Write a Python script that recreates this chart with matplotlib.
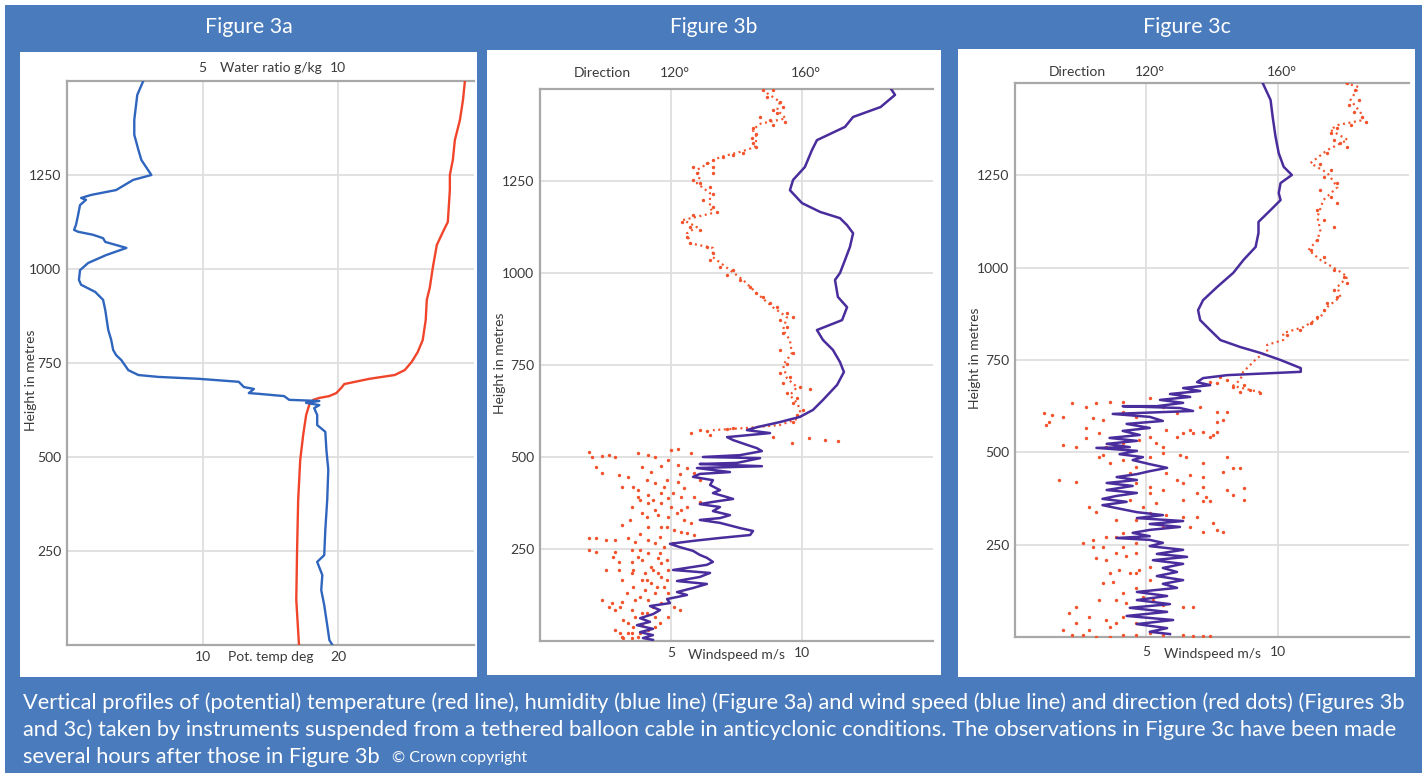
import matplotlib
matplotlib.use('Agg')
import matplotlib.pyplot as plt
from matplotlib.patches import Rectangle

# ---------------- DATA ----------------
# Figure 3a: water ratio (g/kg) and potential temperature (deg) vs height (m)
a_h_water = [0, 13, 53, 106, 146, 186, 221, 239, 306, 386, 466, 519, 567, 585, 612, 630, 638, 644, 649, 652,
             662, 668, 670, 681, 686, 700, 708, 713, 718, 731, 758, 771, 785, 811, 838, 891, 918, 939, 958, 971,
             997, 1016, 1037, 1056, 1072, 1082, 1091, 1099, 1104, 1117, 1144, 1170, 1184, 1189, 1197, 1210, 1237,
             1250, 1290, 1317, 1357, 1397, 1463, 1500]
a_water = [9.78, 9.67, 9.59, 9.48, 9.37, 9.41, 9.22, 9.48, 9.52, 9.59, 9.63, 9.56, 9.52, 9.22, 9.22, 9.11, 9.30,
           8.81, 9.30, 8.19, 8.0, 7.07, 6.70, 6.89, 6.52, 6.33, 4.85, 3.37, 2.63, 2.26, 2.0, 1.81, 1.70, 1.63,
           1.52, 1.41, 1.33, 1.04, 0.52, 0.44, 0.48, 0.78, 1.44, 2.19, 1.41, 1.33, 0.96, 0.41, 0.26, 0.33, 0.41,
           0.48, 0.70, 0.52, 0.89, 1.81, 2.44, 3.11, 2.74, 2.63, 2.48, 2.48, 2.59, 2.81]
a_h_temp = [0, 120, 253, 386, 492, 559, 612, 638, 652, 657, 662, 670, 684, 694, 708, 718, 731, 753, 779, 811,
            864, 918, 950, 1003, 1064, 1104, 1125, 1210, 1250, 1290, 1343, 1396, 1450, 1500]
a_temp = [17.1, 16.9, 16.96, 17.04, 17.19, 17.41, 17.63, 17.85, 18.15, 18.59, 19.33, 19.85, 20.22, 20.44, 22.30,
          24.15, 24.89, 25.41, 25.85, 26.22, 26.44, 26.52, 26.74, 26.96, 27.26, 27.78, 28.07, 28.22, 28.22, 28.44,
          28.59, 28.96, 29.19, 29.33]
a_temp_ticks = [10, 20]
a_water_ticks = [5, 10]

# Figure 3b: wind speed (m/s) line and direction (deg) dots vs height (m)
b_h_ws = [1500, 1484, 1451, 1424, 1397, 1361, 1334, 1288, 1253, 1225, 1190, 1166, 1149, 1130, 1108, 1071, 1035,
          1000, 981, 935, 907, 872, 845, 818, 791, 758, 731, 696, 655, 628, 609, 595, 581, 573, 565, 554, 546, 533,
          524, 516, 505, 500, 497, 484, 481, 475, 470, 459, 454, 446, 437, 424, 410, 402, 391, 386, 378, 372, 364,
          353, 342, 334, 329, 321, 307, 299, 288, 280, 272, 264, 255, 245, 234, 226, 215, 207, 193, 185, 174, 163,
          155, 144, 133, 125, 114, 103, 95, 84, 73, 62, 52, 43, 33, 24, 16, 8, 3]
b_ws = [13.4, 13.55, 13.0, 11.95, 11.64, 10.57, 10.38, 10.11, 9.66, 9.54, 10.0, 10.69, 11.45, 11.72, 11.95, 11.83,
        11.64, 11.45, 11.26, 11.37, 11.72, 11.53, 10.57, 10.8, 11.18, 11.45, 11.6, 11.34, 10.8, 10.42, 9.92, 9.16,
        8.28, 7.9, 8.78, 7.14, 7.37, 7.9, 8.28, 8.47, 7.63, 6.22, 8.4, 7.52, 6.1, 8.47, 5.99, 7.25, 6.1, 5.84, 6.6,
        6.49, 6.87, 6.6, 7.14, 7.37, 6.6, 6.1, 6.87, 6.6, 7.25, 6.87, 6.1, 6.87, 7.63, 8.13, 8.02, 6.87, 5.84, 4.96,
        5.34, 5.84, 6.1, 6.37, 6.6, 6.37, 5.08, 6.49, 6.1, 5.23, 6.37, 5.84, 5.23, 5.61, 4.85, 4.96, 4.2, 4.58, 4.31,
        3.82, 4.2, 3.7, 4.31, 3.82, 4.31, 3.93, 4.31]
b_h_trace = [1500, 1489, 1465, 1443, 1420, 1405, 1388, 1369, 1342, 1329, 1315, 1301, 1280, 1261, 1244, 1217, 1179,
             1163, 1144, 1125, 1108, 1081, 1068, 1043, 1008, 981, 945, 907, 880, 845, 818, 782, 750, 714, 690, 668,
             647, 628, 606, 587, 579, 573]
b_dir_trace = [148.1, 149.3, 153.3, 152.4, 155, 147, 145, 146.2, 145.6, 141.1, 135, 131.9, 127.9, 128.8, 127.9,
               131.9, 131.9, 132.8, 123.7, 127.9, 124.9, 125.8, 132.8, 132.8, 138, 142, 146.2, 151.1, 155.4, 154.2,
               156.3, 156.9, 154.2, 155.4, 158.5, 156.3, 158.5, 159.4, 159.4, 153.3, 143.2, 132.8]
b_h_dots = [1497, 1497, 1479, 1465, 1452, 1443, 1434, 1425, 1416, 1411, 1402, 1393, 1379, 1366, 1352, 1343, 1325,
            1321, 1316, 1307, 1298, 1289, 1289, 1271, 1271, 1253, 1244, 1235, 1216, 1198, 1180, 1167, 1158, 1139,
            1126, 1117, 1099, 1081, 1071, 1053, 1035, 1017, 1008, 994, 981, 963, 945, 936, 918, 908, 890, 881, 872,
            854, 836,
            791, 782, 754, 727, 718, 700, 691, 686, 673, 659, 646, 628, 614, 596,
            564, 571, 560, 575, 578, 573, 555, 537, 551, 546, 543,
            514, 501, 503, 505, 501, 510, 505, 501, 519, 523, 510,
            474, 456, 451, 447, 474, 460, 475, 492, 478, 469, 456, 437,
            419, 410, 428, 419, 433, 415,
            392, 397, 401, 388, 392, 392, 379,
            365, 374, 356, 374, 365,
            347, 342, 338, 356, 329, 320,
            315, 311, 311, 302, 297, 293, 288,
            279, 279, 274, 274, 279, 270, 274, 265, 256,
            247, 243, 243, 247, 229, 238, 225,
            216, 216, 220, 202, 211,
            193, 193, 184, 184, 184, 193,
            166, 166, 157, 175, 148,
            139, 130, 130,
            111, 102, 107, 111, 111, 102, 93,
            93, 84, 84, 75,
            66, 66, 66,
            48, 43, 39,
            30, 21, 12, 12, 21, 30,
            437, 455, 437, 419, 401, 383, 383, 365, 347, 329, 338, 311, 292, 283, 265, 247, 238, 229, 220, 193,
            193, 166, 166, 148, 148, 130, 120, 93, 93, 84, 75, 57, 48, 39, 21, 21, 7, 7]
b_dir_dots = [148.2, 151.2, 149.2, 153.3, 154.3, 151.2, 152.3, 147.2, 150.2, 154.8, 151.2, 145.1, 146.1, 144.6,
              145.1, 146.1, 142.1, 139.0, 136.0, 132.9, 130.9, 126.8, 132.9, 127.8, 132.9, 126.8, 128.9, 131.9,
              132.9, 129.9, 132.9, 133.9, 126.8, 123.3, 125.8, 128.9, 124.8, 125.8, 130.9, 132.9, 131.9, 135.0,
              139.0, 137.0, 141.1, 144.1, 146.1, 148.2, 150.2, 152.3, 155.3, 157.3, 153.3, 155.3, 154.3,
              153.3, 157.3, 155.3, 153.3, 156.3, 154.3, 159.4, 162.4, 155.3, 158.4, 157.3, 160.4, 158.4, 157.3,
              126, 131, 132, 137, 139, 129, 151, 157, 162, 167, 171,
              95, 96, 99, 101, 103, 110, 113, 115, 120, 122, 126,
              97, 99, 104, 107, 111, 114, 117, 119, 122, 125, 127, 129,
              105, 110, 115, 118, 122, 124,
              110, 113, 117, 119, 123, 127, 129,
              108, 113, 115, 117, 120,
              111, 116, 119, 123, 124, 126,
              105, 113, 117, 121, 123, 125, 127,
              95, 97, 100, 103, 107, 109, 113, 115, 118,
              95, 97, 103, 108, 110, 113, 116,
              104, 108, 111, 114, 117,
              100, 104, 108, 112, 116, 119,
              105, 111, 114, 117, 118,
              112, 115, 119,
              99, 102, 105, 109, 113, 117, 121,
              101, 103, 108, 111,
              109, 115, 119,
              107, 111, 115,
              103, 108, 110, 105, 107, 113,
              118.7, 122.7, 112.6, 108.5, 120.7, 114.6, 110.5, 124.8, 121.7, 107.5, 112.6, 118.7, 110.5, 116.6,
              120.7, 110.5, 116.6, 102.4, 118.7, 108.5, 114.6, 112.6, 118.7, 108.5, 115.6, 106.5, 110.5, 104.4,
              114.6, 122.7, 112.6, 105.4, 116.6, 108.5, 104.4, 110.5, 108.0, 105.4]

# Figure 3c
c_h_ws = [1500, 1454, 1408, 1354, 1310, 1273, 1251, 1229, 1202, 1183, 1156, 1124, 1094, 1056, 1021, 986, 948, 912,
          885, 858, 831, 804, 785, 769, 750, 728, 718, 709, 701, 690, 682, 674, 666, 658, 650, 642, 634, 625, 625,
          620, 612, 604, 596, 585, 577, 566, 558, 547, 539, 531, 523, 514, 512, 504, 495, 487, 479, 468, 458, 449,
          441, 433, 425, 417, 409, 398, 390, 382, 374, 366, 357, 349, 338, 330, 322, 314, 306, 298, 290, 282, 273,
          268, 263, 255, 246, 236, 225, 217, 208, 198, 187, 176, 165, 154, 144, 133, 122, 111, 100, 89, 79, 68, 57,
          46, 35, 24, 14, 8]
c_ws = [9.43, 9.73, 9.81, 9.92, 10.04, 10.23, 10.54, 10.11, 10.04, 10.11, 9.73, 9.27, 9.27, 9.16, 8.70, 8.31, 7.70,
        7.16, 6.97, 7.05, 7.43, 7.82, 8.58, 9.35, 10.11, 10.88, 10.88, 8.08, 7.16, 6.93, 7.43, 6.4, 7.05, 5.9, 6.67,
        5.52, 6.4, 5.4, 4.1, 6.28, 6.78, 3.72, 5.13, 5.63, 4.25, 5.13, 4.1, 4.75, 3.6, 4.64, 3.49, 4.37, 3.1, 4.64,
        3.98, 4.87, 4.48, 5.13, 5.79, 5.13, 4.64, 3.87, 4.64, 3.49, 4.48, 3.49, 4.64, 3.87, 3.33, 4.25, 3.33, 3.87,
        4.64, 5.63, 4.64, 6.4, 5.13, 6.28, 5.13, 4.48, 5.13, 3.87, 5.13, 5.63, 5.13, 6.4, 5.4, 6.55, 5.25, 6.4, 5.63,
        6.17, 5.4, 6.4, 5.63, 6.17, 4.64, 5.79, 4.64, 5.9, 4.37, 5.79, 4.25, 6.02, 4.64, 5.79, 5.13, 5.9]
c_h_trace = [1500, 1489, 1454, 1419, 1400, 1386, 1373, 1346, 1319, 1283, 1256, 1218, 1183, 1137, 1102, 1075, 1048,
             1021, 994, 975, 948, 921, 894, 866, 839, 823, 804, 791, 772, 755, 736, 718, 696, 680, 669, 663]
c_dir_trace = [180.7, 184.7, 182.2, 185.3, 186.2, 178.2, 176.1, 181.3, 175.2, 170.0, 175.2, 178.2, 173.9, 172.1,
               173.0, 172.1, 169.4, 173.0, 178.2, 181.3, 178.2, 179.1, 175.2, 173.0, 167.8, 161.7, 161.7, 156.8,
               156.8, 153.7, 151.6, 149.5, 148.6, 146.4, 151.6, 154.7]
c_h_dots = [1499, 1481, 1454, 1440, 1422, 1409, 1395, 1386, 1377, 1364, 1346, 1337, 1328, 1310, 1282, 1264, 1246,
            1228, 1210, 1192, 1174, 1156, 1129, 1111, 1075, 1048, 1030, 994, 976, 958, 940, 921, 903, 885, 867, 849,
            831, 818,
            687, 696, 678, 664, 669, 660, 705, 682, 691,
            606, 601, 597, 574, 583, 633, 624, 633, 637, 637, 646, 565, 592, 588, 610, 597, 624, 606, 624, 610, 610,
            583, 588,
            538, 552, 515, 524, 533, 524, 542, 552, 552, 556, 547, 556, 515, 520, 515,
            493, 470, 479, 461, 488, 497, 493, 488, 470, 488, 457, 457, 448, 439, 434, 443, 421, 425,
            416, 407, 398, 416, 407, 380, 398, 385, 403, 371, 367, 367, 389, 362, 371, 353, 339,
            371, 353, 335, 330, 326, 326, 308, 285, 290, 285, 299, 299, 317, 317,
            254, 263, 272, 272, 213, 209, 227, 218, 227, 190, 181, 172, 181, 245, 245,
            145, 150, 118, 132, 109, 154, 100, 100, 91, 82, 82, 87,
            64, 37, 19, 46, 37, 55, 37, 82, 5, 1, 1, 5, 5, 5, 3, 3, 3,
            542, 561, 561, 542, 488, 443, 425, 389, 281, 245, 254, 172, 172, 100, 55, 28, 10, 5, 19, 5]
c_dir_dots = [181.2, 183.7, 184.8, 181.7, 183.2, 185.8, 186.8, 182.2, 178.1, 176.1, 177.1, 179.1, 181.2, 175.1,
              173.0, 176.1, 174.0, 178.1, 173.0, 176.1, 178.1, 172.0, 174.0, 177.1, 172.0, 170.0, 174.0, 177.1,
              180.2, 181.2, 177.1, 178.1, 175.1, 174.0, 172.0, 170.0, 166.9, 162.8,
              141.4, 144.5, 146.5, 148.5, 151.6, 154.7, 142.4, 149.6, 139.4,
              88.9, 91.4, 94.5, 89.4, 90.4, 97.5, 101.6, 104.7, 108.8, 112.8, 121.0, 101.6, 103.7, 106.7, 112.8,
              116.9, 125.1, 129.2, 136.3, 141.4, 144.5, 141.4, 143.4,
              101.6, 105.7, 107.7, 112.8, 117.9, 123.0, 129.2, 131.2, 134.3, 137.3, 140.4, 141.4, 125.1, 94.5, 98.6,
              106.7, 108.8, 112.8, 116.9, 121.0, 125.1, 130.2, 132.2, 137.3, 144.5, 146.5, 148.5, 143.4, 133.2,
              137.3, 126.1, 98.6, 93.5,
              116.9, 121.0, 125.1, 131.2, 137.3, 138.3, 144.5, 146.5, 149.6, 149.6, 137.3, 139.4, 121.0, 123.0,
              131.2, 102.6, 104.7,
              114.9, 119.0, 121.0, 126.1, 131.2, 135.3, 140.4, 137.3, 141.4, 143.4, 133.2, 125.1, 116.9, 110.8,
              100.6, 103.7, 107.7, 110.8, 104.7, 107.7, 110.8, 113.9, 116.9, 121.0, 111.8, 114.9, 117.9, 103.7, 112.8,
              106.7, 109.8, 112.8, 116.9, 119.0, 121.0, 122.0, 110.8, 113.9, 131.2, 134.3, 125.1,
              96.5, 98.6, 102.6, 107.7, 110.8, 112.8, 116.9, 98.6, 100.6, 104.7, 108.8, 112.8, 116.9, 131.2, 134.3,
              137.3, 139.4,
              121.0, 126.1, 133.2, 139.4, 105.7, 114.9, 129.2, 135.3, 112.8, 106.7, 116.9, 108.8, 116.9, 105.7,
              102.6, 108.8, 121.0, 125.1, 94.5, 97.5]

height_ticks = [250, 500, 750, 1000, 1250]
ws_ticks = [5, 10]
dir_ticks = [120, 160]
dir_tick_labels = ['120°', '160°']

titles = ['Figure 3a', 'Figure 3b', 'Figure 3c']
caption_lines = [
    'Vertical profiles of (potential) temperature (red line), humidity (blue line) (Figure 3a) and wind speed '
    '(blue line) and direction (red dots) (Figures 3b',
    'and 3c) taken by instruments suspended from a tethered balloon cable in anticyclonic conditions. '
    'The observations in Figure 3c have been made',
    'several hours after those in Figure 3b',
]
copyright_text = '© Crown copyright'

# ---------------- STYLE ----------------
W, H, DPI = 1426, 778, 100
plt.rcParams['font.family'] = ['Lato', 'DejaVu Sans']
BG = '#4a7bbc'
RED = '#f0452a'
BLUE_A = '#2f65bd'
PURPLE = '#4a2d9c'
DOT = '#f2532b'
GRID = '#dedede'
SPINE = '#a8a8a8'
TXT = '#3a3a3a'

fig = plt.figure(figsize=(W / DPI, H / DPI), dpi=DPI)
fig.patch.set_facecolor('white')
renderer = fig.canvas.get_renderer()

bg = fig.add_axes([0, 0, 1, 1], zorder=-10)
bg.set_xlim(0, W)
bg.set_ylim(H, 0)
bg.axis('off')
bg.add_patch(Rectangle((5, 5), W - 9, H - 10, color=BG, lw=0))
panels = [(20, 52, 477, 677), (487, 50, 941, 675), (958, 49, 1415, 677)]
for (l, t, r, b) in panels:
    bg.add_patch(Rectangle((l, t), r - l, b - t, color='white', lw=0))


def fitted_text(x, y, s, target_w, base=13, **kw):
    t = bg.text(x, y, s, fontsize=base, **kw)
    w = t.get_window_extent(renderer).width
    t.set_fontsize(base * target_w / w)
    return t


for (l, t, r, b), title in zip(panels, titles):
    fitted_text((l + r) / 2, 27, title, 87, color='white', ha='center', va='center')

# caption
cap = fitted_text(23, 703, caption_lines[0], 1380, color='white', ha='left', va='center')
cap_fs = cap.get_fontsize()
last = None
for i, line in enumerate(caption_lines[1:], start=1):
    last = bg.text(23, 703 + 27 * i, line, color='white', fontsize=cap_fs, ha='left', va='center')
last_end = 23 + last.get_window_extent(renderer).width
fitted_text(last_end + 12, 758, copyright_text, 135, color='white', ha='left', va='center')

# y labels
for x, y in [(31, 380), (500, 363), (975, 358)]:
    bg.text(x, y, 'Height in metres', rotation=90, color=TXT, fontsize=10, ha='center', va='center')


def px_axes(l, t, r, b, **kw):
    return fig.add_axes([l / W, 1 - b / H, (r - l) / W, (b - t) / H], **kw)


def style_main(ax):
    for s in ['left', 'top', 'bottom']:
        ax.spines[s].set_color(SPINE)
        ax.spines[s].set_linewidth(1.6)
    ax.spines['right'].set_visible(False)
    ax.set_ylim(0, 1500)
    ax.set_yticks(height_ticks)
    ax.set_yticklabels([str(v) for v in height_ticks])
    ax.tick_params(axis='both', length=0, labelsize=10, labelcolor=TXT, pad=4)
    ax.tick_params(axis='x', labelbottom=False)
    ax.grid(True, color=GRID, lw=1.3)
    ax.set_axisbelow(True)


def label(ax, text, x, where, dy, dx=0):
    y = 1 if where == 'top' else 0
    ax.annotate(text, xy=(x, y), xycoords=ax.get_xaxis_transform(), xytext=(dx, dy),
                textcoords='offset pixels', ha='center', va='center', fontsize=10, color=TXT,
                annotation_clip=False)


def style_twin(axt):
    for s in axt.spines.values():
        s.set_visible(False)
    axt.tick_params(axis='x', length=0, labeltop=False, labelbottom=False)


# ---------- Figure 3a ----------
ax = px_axes(67, 81, 474, 645)
style_main(ax)
ax.set_xlim(0, 30)
ax.set_xticks(a_temp_ticks)
ax.plot(a_temp, a_h_temp, color=RED, lw=1.7, zorder=3)
for v in a_temp_ticks:
    label(ax, str(v), v, 'bottom', -12)
label(ax, 'Pot. temp deg', 15, 'bottom', -12)
axw = ax.twiny()
style_twin(axw)
axw.set_xlim(0, 15)
axw.set_xticks(a_water_ticks)
axw.plot(a_water, a_h_water, color=BLUE_A, lw=1.7)
for v in a_water_ticks:
    label(axw, str(v), v, 'top', 13)
label(axw, 'Water ratio g/kg', 7.5, 'top', 13)


# ---------- Figure 3b / 3c ----------
def wind_panel(box, h_ws, ws, h_tr, dir_tr, h_dots, dir_dots, top_dy, bot_dy):
    ax = px_axes(*box)
    style_main(ax)
    ax.set_xlim(0, 15)
    ax.set_xticks(ws_ticks)
    for v in ws_ticks:
        label(ax, str(v), v, 'bottom', bot_dy)
    label(ax, 'Windspeed m/s', 7.5, 'bottom', bot_dy - 2)
    axd = ax.twiny()
    style_twin(axd)
    axd.set_xlim(80, 200)
    axd.set_xticks(dir_ticks)
    axd.plot(dir_tr, h_tr, color=DOT, lw=1.6, dashes=(0.9, 1.6))
    axd.scatter(dir_dots, h_dots, s=6, color=DOT, lw=0)
    for v, t in zip(dir_ticks, dir_tick_labels):
        label(axd, t, v, 'top', top_dy, dx=4)
    label(axd, 'Direction', 99, 'top', top_dy)
    axl = px_axes(*box, sharex=ax, sharey=ax)
    axl.axis('off')
    axl.patch.set_visible(False)
    axl.plot(ws, h_ws, color=PURPLE, lw=1.8)


wind_panel((540, 89, 933, 641), b_h_ws, b_ws, b_h_trace, b_dir_trace, b_h_dots, b_dir_dots, 16, -12)
wind_panel((1015, 83, 1409, 637), c_h_ws, c_ws, c_h_trace, c_dir_trace, c_h_dots, c_dir_dots, 11, -15)

fig.savefig('out.png', dpi=DPI, facecolor=fig.get_facecolor())
